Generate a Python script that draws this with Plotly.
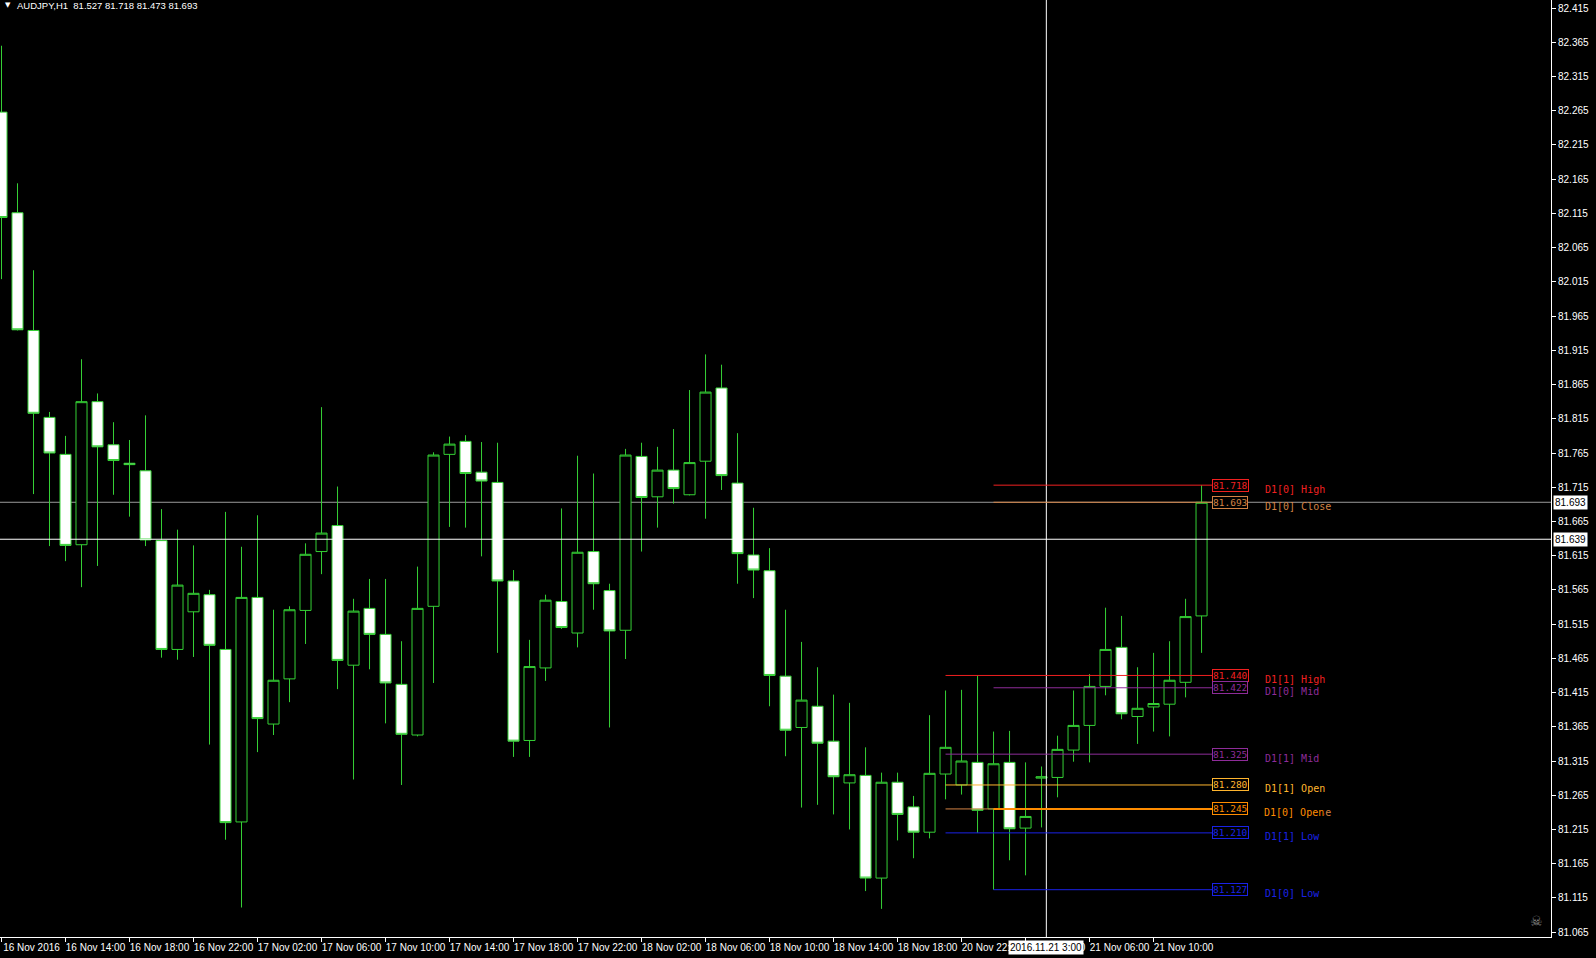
import plotly.graph_objects as go

# ---------------- data ----------------
symbol_title = "AUDJPY,H1\u00a0\u00a081.527 81.718 81.473 81.693"

opens = [82.263, 82.116, 81.944, 81.817, 81.763, 81.631, 81.840, 81.777, 81.750, 81.739,
         81.637, 81.478, 81.533, 81.558, 81.478, 81.226, 81.554, 81.369, 81.435, 81.535,
         81.621, 81.659, 81.455, 81.538, 81.500, 81.427, 81.353, 81.541, 81.763, 81.782,
         81.737, 81.722, 81.578, 81.345, 81.451, 81.548, 81.502, 81.621, 81.564, 81.506,
         81.760, 81.701, 81.740, 81.704, 81.753, 81.860, 81.721, 81.616, 81.593, 81.439,
         81.364, 81.395, 81.344, 81.283, 81.294, 81.144, 81.284, 81.248, 81.211, 81.296,
         81.280, 81.313, 81.245, 81.313, 81.217, 81.290, 81.291, 81.331, 81.367, 81.424,
         81.481, 81.380, 81.394, 81.398, 81.430, 81.527]
highs = [82.360, 82.159, 82.032, 81.825, 81.790, 81.902, 81.852, 81.810, 81.784, 81.820,
         81.683, 81.653, 81.630, 81.565, 81.679, 81.628, 81.674, 81.536, 81.541, 81.633,
         81.832, 81.716, 81.552, 81.581, 81.581, 81.490, 81.599, 81.766, 81.789, 81.791,
         81.781, 81.780, 81.594, 81.492, 81.558, 81.684, 81.761, 81.735, 81.574, 81.771,
         81.780, 81.774, 81.800, 81.857, 81.909, 81.894, 81.794, 81.685, 81.626, 81.536,
         81.489, 81.452, 81.412, 81.400, 81.335, 81.298, 81.298, 81.264, 81.382, 81.418,
         81.419, 81.440, 81.358, 81.359, 81.313, 81.307, 81.352, 81.418, 81.442, 81.539,
         81.527, 81.452, 81.473, 81.490, 81.552, 81.718]
lows = [82.019, 81.944, 81.705, 81.629, 81.607, 81.569, 81.600, 81.704, 81.672, 81.629,
        81.466, 81.463, 81.467, 81.339, 81.200, 81.101, 81.328, 81.353, 81.401, 81.486,
        81.588, 81.420, 81.288, 81.449, 81.370, 81.280, 81.351, 81.429, 81.657, 81.656,
        81.614, 81.473, 81.321, 81.321, 81.432, 81.508, 81.481, 81.536, 81.364, 81.464,
        81.621, 81.656, 81.691, 81.703, 81.669, 81.711, 81.574, 81.553, 81.395, 81.322,
        81.247, 81.251, 81.237, 81.215, 81.125, 81.099, 81.199, 81.173, 81.202, 81.259,
        81.266, 81.210, 81.127, 81.170, 81.148, 81.218, 81.262, 81.314, 81.313, 81.411,
        81.376, 81.340, 81.358, 81.351, 81.408, 81.473]
closes = [82.109, 81.945, 81.823, 81.765, 81.630, 81.840, 81.774, 81.754, 81.748, 81.638,
          81.478, 81.572, 81.560, 81.484, 81.225, 81.554, 81.377, 81.433, 81.536, 81.617,
          81.648, 81.462, 81.534, 81.500, 81.429, 81.354, 81.538, 81.762, 81.778, 81.735,
          81.724, 81.578, 81.344, 81.453, 81.550, 81.510, 81.620, 81.574, 81.505, 81.762,
          81.700, 81.740, 81.713, 81.751, 81.854, 81.732, 81.618, 81.594, 81.440, 81.360,
          81.404, 81.341, 81.292, 81.295, 81.144, 81.284, 81.237, 81.211, 81.297, 81.335,
          81.315, 81.243, 81.311, 81.216, 81.234, 81.292, 81.332, 81.367, 81.424, 81.478,
          81.384, 81.392, 81.399, 81.433, 81.526, 81.693]
bars = list(range(len(opens)))

time_tick_bars = [0, 4, 8, 12, 16, 20, 24, 28, 32, 36, 40, 44, 48, 52, 56, 60, 64, 68, 72]
time_tick_labels = ["16 Nov 2016", "16 Nov 14:00", "16 Nov 18:00", "16 Nov 22:00",
                    "17 Nov 02:00", "17 Nov 06:00", "17 Nov 10:00", "17 Nov 14:00",
                    "17 Nov 18:00", "17 Nov 22:00", "18 Nov 02:00", "18 Nov 06:00",
                    "18 Nov 10:00", "18 Nov 14:00", "18 Nov 18:00", "20 Nov 22:00",
                    "21 Nov 02:00", "21 Nov 06:00", "21 Nov 10:00"]

price_tick_labels = ["81.065", "81.115", "81.165", "81.215", "81.265", "81.315", "81.365",
                     "81.415", "81.465", "81.515", "81.565", "81.615", "81.665", "81.715",
                     "81.765", "81.815", "81.865", "81.915", "81.965", "82.015", "82.065",
                     "82.115", "82.165", "82.215", "82.265", "82.315", "82.365", "82.415"]
price_tick_values = [float(t) for t in price_tick_labels]

# daily levels (name, value, first H1 bar of the day)
d1_names = ["D1[1] High", "D1[1] Mid", "D1[1] Open", "D1[1] Close", "D1[1] Low",
            "D1[0] High", "D1[0] Close", "D1[0] Mid", "D1[0] Open", "D1[0] Low"]
d1_values = [81.440, 81.325, 81.280, 81.245, 81.210,
             81.718, 81.693, 81.422, 81.245, 81.127]
d1_start_bars = [59, 59, 59, 59, 59, 62, 62, 62, 62, 62]

bid_price = 81.693
cursor_price = 81.639
cursor_bar = 65.3
cursor_time = "2016.11.21 3:00"

# ---------------- styles ----------------
level_colors = {
    "High": "#F02020", "Mid": "#8E2C99", "Open1": "#FFB52E", "Open0": "#FF8C00",
    "Close": "#D28345", "Low": "#1A22E6",
}
def level_color(name):
    kind = name.split()[1]
    if kind == "Open":
        return level_colors["Open1"] if name.startswith("D1[1]") else level_colors["Open0"]
    return level_colors[kind]

GREEN = "#35D035"
BOX_X = 75.66
LABEL_X = 78.84
MONO = "DejaVu Sans Mono"
SANS = "Liberation Sans"

fig = go.Figure()
fig.add_trace(go.Candlestick(
    x=bars, open=opens, high=highs, low=lows, close=closes,
    increasing=dict(line=dict(color=GREEN, width=1), fillcolor="#000000"),
    decreasing=dict(line=dict(color=GREEN, width=1), fillcolor="#FFFFFF"),
    whiskerwidth=0, hoverinfo="skip", showlegend=False,
))

shapes = []
annotations = []

# bid line and crosshair
shapes.append(dict(type="line", xref="paper", x0=0, x1=1, yref="y", y0=bid_price, y1=bid_price,
                   line=dict(color="#9A9A9A", width=1), layer="below"))
shapes.append(dict(type="line", xref="paper", x0=0, x1=1, yref="y", y0=cursor_price, y1=cursor_price,
                   line=dict(color="#FFFFFF", width=1)))
shapes.append(dict(type="line", xref="x", x0=cursor_bar, x1=cursor_bar, yref="paper", y0=0, y1=1,
                   line=dict(color="#FFFFFF", width=1)))

# daily level lines, price boxes and labels
for name, val, start in zip(d1_names, d1_values, d1_start_bars):
    col = level_color(name)
    w = 2 if name == "D1[0] Open" else 1
    shapes.append(dict(type="line", xref="x", x0=start, x1=BOX_X, yref="y", y0=val, y1=val,
                       line=dict(color=col, width=w)))
for name, val in zip(d1_names, d1_values):
    col = level_color(name)
    annotations.append(dict(x=BOX_X, y=val, xref="x", yref="y", xanchor="left", yanchor="middle",
                            text=f"{val:.3f}", showarrow=False,
                            font=dict(family=MONO, size=9.5, color=col),
                            bgcolor="#000000", bordercolor=col, borderwidth=1, borderpad=0))
    label = dict(x=LABEL_X, y=val, xref="x", yref="y", xanchor="left", yanchor="middle",
                 yshift=-4, text=name.replace(" ", "\u00a0"), showarrow=False,
                 font=dict(family=MONO, size=10, color=col))
    if name == "D1[0] Open":
        label.update(bgcolor="#000000", borderpad=0)
    annotations.append(label)

# axis price labels for bid and cursor
for p in [bid_price, cursor_price]:
    annotations.append(dict(x=1, y=p, xref="paper", yref="y", xanchor="left", yanchor="middle",
                            xshift=2, text=f"{p:.3f}", showarrow=False,
                            font=dict(family=SANS, size=10, color="#000000"),
                            bgcolor="#FFFFFF", borderpad=1))
# cursor time label
annotations.append(dict(x=cursor_bar, y=0, xref="x", yref="paper", xanchor="center", yanchor="top",
                        yshift=-3, text=cursor_time, showarrow=False,
                        font=dict(family=SANS, size=10, color="#000000"),
                        bgcolor="#FFFFFF", borderpad=1))
# title
annotations.append(dict(x=0, y=1, xref="paper", yref="paper", xanchor="left", yanchor="top",
                        xshift=3, yshift=1, text="\u25BC", showarrow=False,
                        font=dict(family="DejaVu Sans", size=7, color="#FFFFFF")))
annotations.append(dict(x=0, y=1, xref="paper", yref="paper", xanchor="left", yanchor="top",
                        xshift=15, yshift=2, text=symbol_title, showarrow=False,
                        font=dict(family=SANS, size=9.5, color="#FFFFFF")))
# skull icon
annotations.append(dict(x=1, y=0, xref="paper", yref="paper", xanchor="right", yanchor="bottom",
                        xshift=-6, yshift=6, text="\u2620", showarrow=False,
                        font=dict(family="DejaVu Sans", size=14, color="#8A8A8A")))

fig.update_layout(
    width=1596, height=958,
    margin=dict(l=0, r=45, t=0, b=21, pad=0),
    paper_bgcolor="#000000", plot_bgcolor="#000000",
    showlegend=False, boxgap=0.31, boxgroupgap=0,
    shapes=shapes, annotations=annotations,
    xaxis=dict(range=[-0.094, 96.84], tickmode="array", tickvals=time_tick_bars,
               ticktext=time_tick_labels, ticks="outside", ticklen=4, tickcolor="#FFFFFF",
               showline=True, linecolor="#FFFFFF", linewidth=1, showgrid=False, zeroline=False,
               tickfont=dict(family=SANS, size=10, color="#FFFFFF"), automargin=False,
               ticklabelshift=30, ticklabelstandoff=-3,
               rangeslider=dict(visible=False), fixedrange=True),
    yaxis=dict(range=[81.0579, 82.4268], side="right", tickmode="array",
               tickvals=price_tick_values, ticktext=price_tick_labels, automargin=False,
               ticks="outside", ticklen=4, tickcolor="#FFFFFF",
               showline=True, linecolor="#FFFFFF", linewidth=1, showgrid=False, zeroline=False,
               tickfont=dict(family=SANS, size=10, color="#FFFFFF"), fixedrange=True),
)

fig.write_html(
    "out.html",
    config={"displayModeBar": False},
    post_script="document.body.style.margin='0';document.body.style.padding='0';"
                "document.body.style.overflow='hidden';document.body.style.background='#000';",
)
